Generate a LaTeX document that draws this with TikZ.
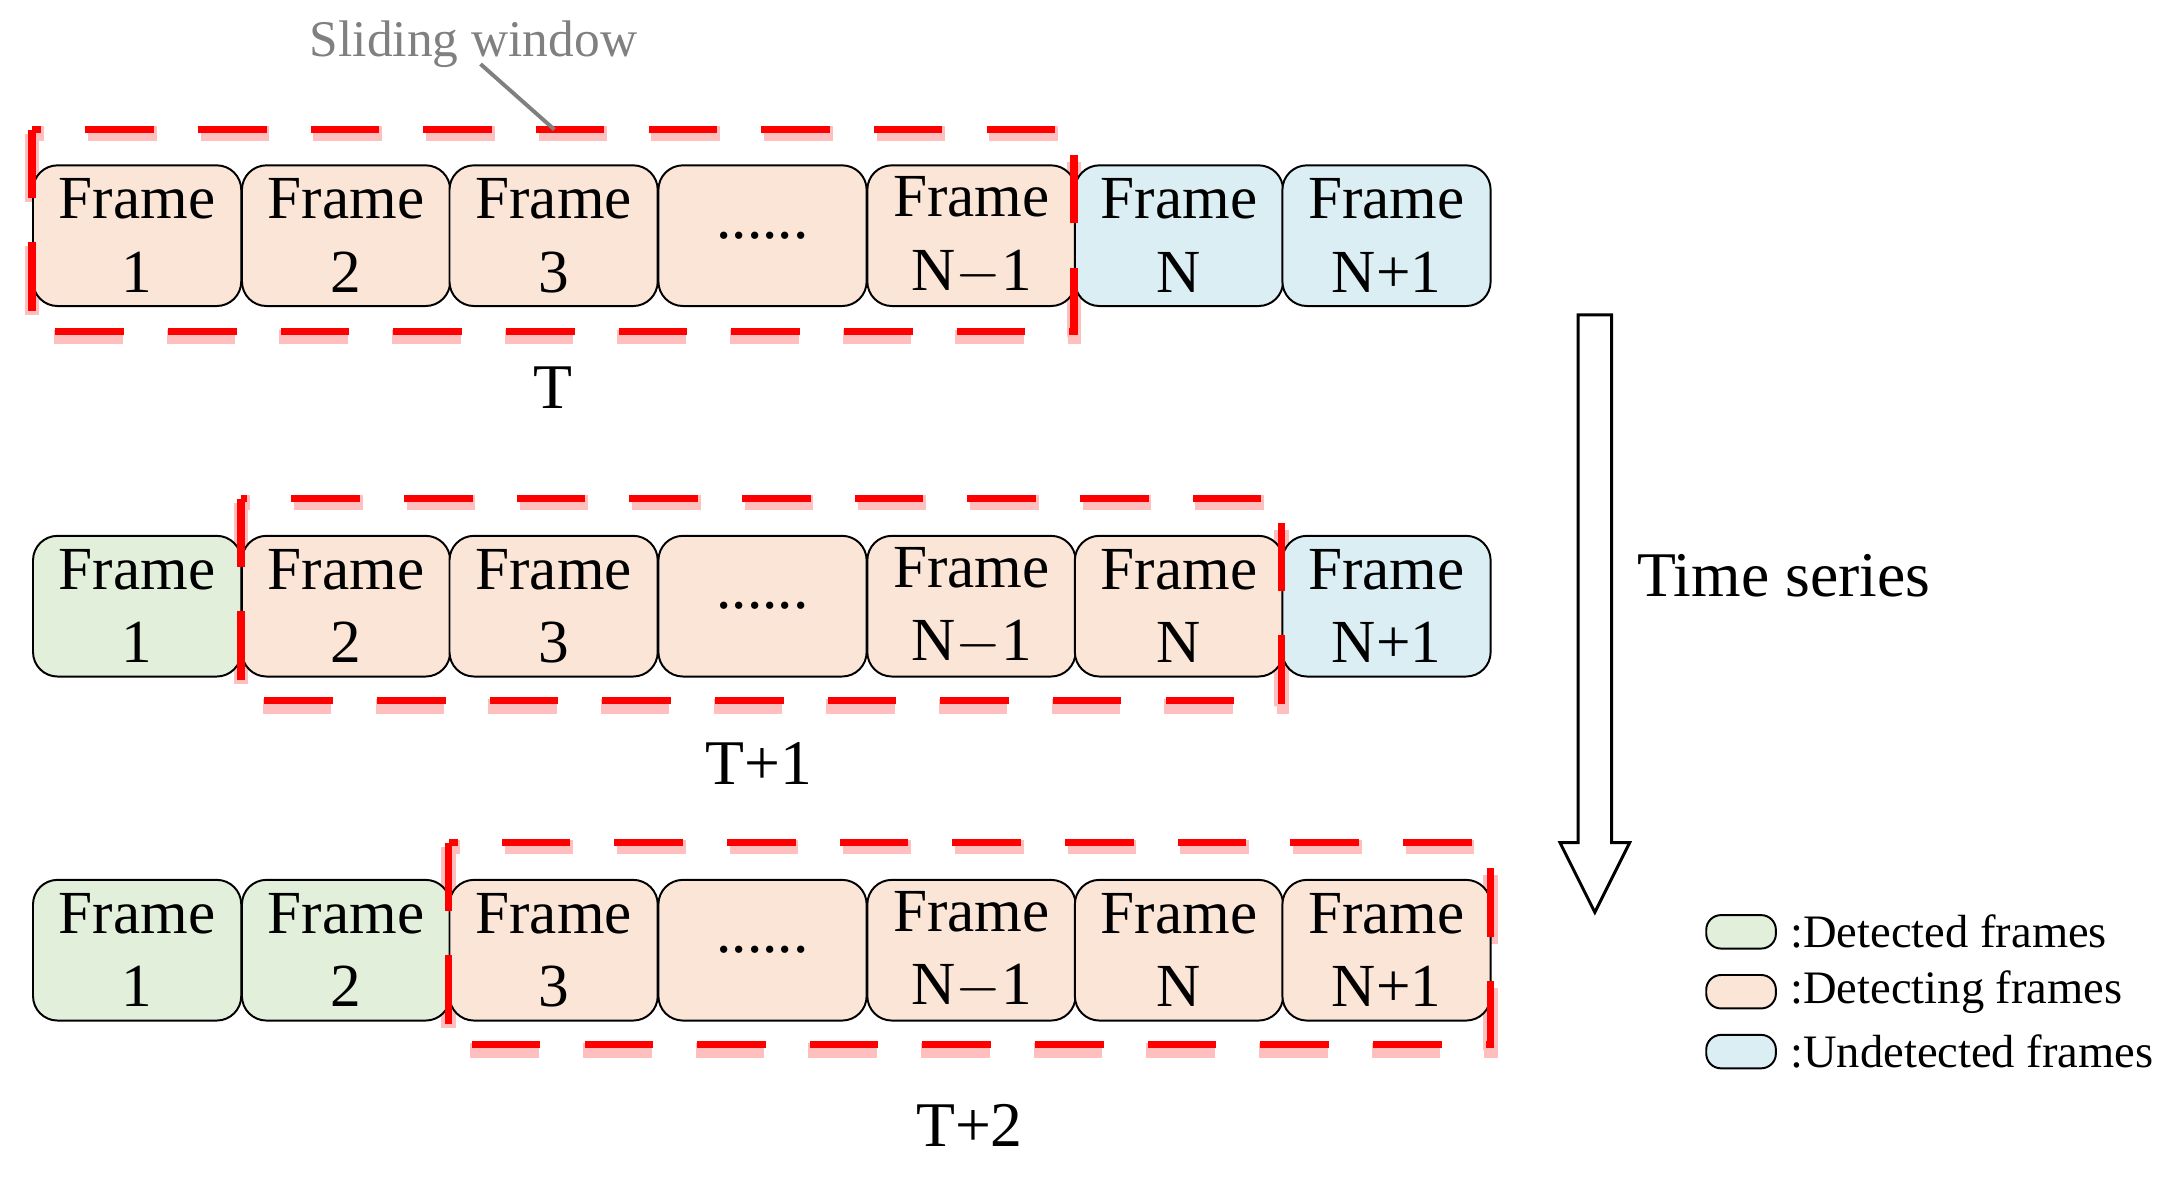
\documentclass[tikz,border=0pt]{standalone}
\usepackage{fontspec}
\setmainfont{Liberation Serif}
\definecolor{gr}{HTML}{E2EFDA}
\definecolor{pe}{HTML}{FBE5D6}
\definecolor{bl}{HTML}{DAEEF3}
\begin{document}
\begin{tikzpicture}[x=0.01cm,y=-0.01cm,
 fr/.style={draw=black,rounded corners=5pt,minimum width=149.5*0.01cm,minimum height=101*0.01cm,inner sep=0pt,align=center,font=\fontsize{12.5}{15}\selectfont,anchor=north west},
 win/.style={draw=red,line width=1.5pt,dash pattern=on 14pt off 9pt},
 winsh/.style={draw=red!25,line width=3pt,dash pattern=on 14pt off 9pt},
 lbl/.style={font=\fontsize{13}{16}\selectfont},
 leg/.style={draw=black,rounded corners=3pt,minimum width=50*0.01cm,minimum height=24*0.01cm,inner sep=0pt},
 legt/.style={font=\fontsize{9.5}{12}\selectfont,anchor=west}]
\useasboundingbox (0,0) rectangle (1568,845);
% window shadows
\draw[winsh] (23,96) rectangle (771,242);
\draw[winsh] (173,361) rectangle (920,507);
\draw[winsh] (322,608) rectangle (1070,754);
\foreach \x/\t/\c [count=\i] in {23/{Frame\\1}/pe,173/{Frame\\2}/pe,322/{Frame\\3}/pe,472/{......}/pe,622/{Frame\\N$-$1}/pe,771/{Frame\\N}/bl,920/{Frame\\N+1}/bl}
  \node[fr,fill=\c] (a\i) at (\x,118) {\t};
\foreach \x/\t/\c [count=\i] in {23/{Frame\\1}/gr,173/{Frame\\2}/pe,322/{Frame\\3}/pe,472/{......}/pe,622/{Frame\\N$-$1}/pe,771/{Frame\\N}/pe,920/{Frame\\N+1}/bl}
  \node[fr,fill=\c] (b\i) at (\x,384) {\t};
\foreach \x/\t/\c [count=\i] in {23/{Frame\\1}/gr,173/{Frame\\2}/gr,322/{Frame\\3}/pe,472/{......}/pe,622/{Frame\\N$-$1}/pe,771/{Frame\\N}/pe,920/{Frame\\N+1}/pe}
  \node[fr,fill=\c] (c\i) at (\x,631) {\t};
% windows
\draw[win] (23,93) rectangle (771,238);
\draw[win] (173,358) rectangle (920,503);
\draw[win] (322,605) rectangle (1070,750);
\node[lbl] (t1) at (397,278) {T};
\node[lbl] (t2) at (545,548) {T+1};
\node[lbl] (t3) at (696,808) {T+2};
\node[font=\fontsize{10.5}{13}\selectfont,text=gray] (sw) at (340,32) {Sliding window};
\coordinate (swe) at (398,93);
\draw[gray,line width=0.8pt] (345,46) -- (swe);
\draw[line width=0.6pt,fill=white] (1133,226) -- (1157,226) -- (1157,605) -- (1170,605) -- (1145,655) -- (1120,605) -- (1133,605) -- cycle;
\node[lbl,anchor=west] (ts) at (1163,413) {Time series};
\node[leg,fill=gr] (l1) at (1250,669) {};
\node[leg,fill=pe] (l2) at (1250,712) {};
\node[leg,fill=bl] (l3) at (1250,755) {};
\node[legt] at (1273,669) {:Detected frames};
\node[legt] at (1273,712) {:Detecting frames};
\node[legt] at (1273,755) {:Undetected frames};
\end{tikzpicture}
\end{document}
